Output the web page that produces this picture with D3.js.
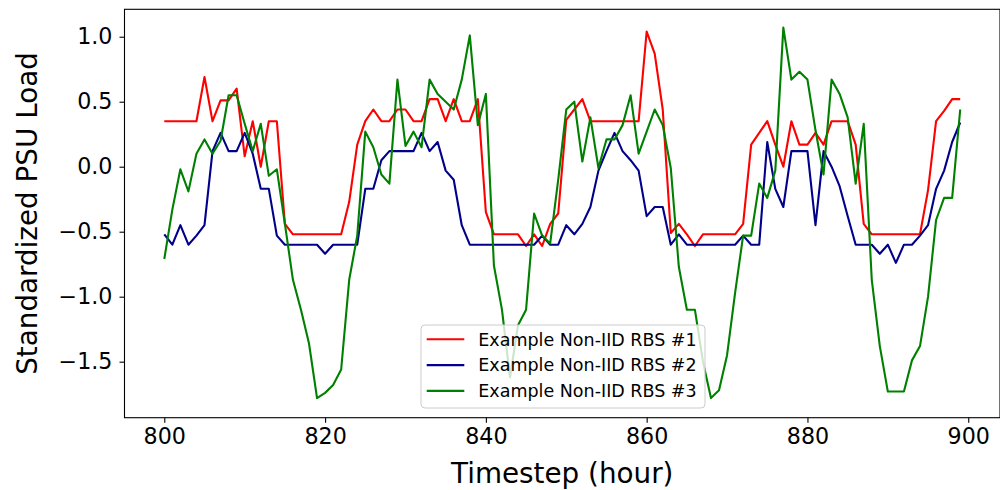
<!DOCTYPE html>
<html>
<head>
<meta charset="utf-8">
<script src="https://cdn.jsdelivr.net/npm/d3@7"></script>
<style>
  body { margin: 0; background: #fff; }
  text { font-family: "DejaVu Sans", sans-serif; fill: #000; }
</style>
</head>
<body>
<svg id="chart" width="1000" height="490"></svg>
<script>
// timesteps 800..899
var hours = d3.range(800, 900);

var rbs1 = [
  0.35,0.35,0.35,0.35,0.35, 0.69,0.35,0.51,0.51,0.60,
  0.08,0.35,0.00,0.35,0.35, -0.44,-0.52,-0.52,-0.52,-0.52,
  -0.52,-0.52,-0.52,-0.27,0.17, 0.35,0.44,0.35,0.35,0.44,
  0.44,0.35,0.35,0.52,0.52, 0.35,0.52,0.35,0.35,0.52,
  -0.35,-0.52,-0.52,-0.52,-0.52, -0.61,-0.52,-0.61,-0.44,-0.36,
  0.36,0.44,0.52,0.35,0.35, 0.35,0.35,0.35,0.35,0.35,
  1.04,0.87,0.44,-0.51,-0.44, -0.52,-0.61,-0.52,-0.52,-0.52,
  -0.52,-0.52,-0.44,0.17,0.26, 0.35,0.17,0.00,0.35,0.17,
  0.17,0.26,0.17,0.35,0.35, 0.35,0.17,-0.44,-0.52,-0.52,
  -0.52,-0.52,-0.52,-0.52,-0.52, -0.18,0.35,0.43,0.52,0.52
];

var rbs2 = [
  -0.52,-0.60,-0.45,-0.60,-0.53, -0.45,0.12,0.26,0.12,0.12,
  0.26,0.10,-0.17,-0.17,-0.53, -0.60,-0.60,-0.60,-0.60,-0.60,
  -0.67,-0.60,-0.60,-0.60,-0.60, -0.17,-0.17,0.05,0.12,0.12,
  0.12,0.12,0.26,0.12,0.19, -0.03,-0.10,-0.45,-0.60,-0.60,
  -0.60,-0.60,-0.60,-0.60,-0.60, -0.60,-0.60,-0.53,-0.60,-0.60,
  -0.45,-0.52,-0.44,-0.31,-0.03, 0.12,0.26,0.12,0.05,-0.03,
  -0.38,-0.31,-0.31,-0.60,-0.52, -0.60,-0.60,-0.60,-0.60,-0.60,
  -0.60,-0.60,-0.53,-0.60,-0.60, 0.19,-0.17,-0.31,0.12,0.12,
  0.12,-0.45,0.12,0.00,-0.15, -0.38,-0.60,-0.60,-0.60,-0.67,
  -0.60,-0.74,-0.60,-0.60,-0.53, -0.45,-0.17,-0.03,0.19,0.34
];

var rbs3 = [
  -0.71,-0.33,-0.02,-0.19,0.10, 0.21,0.10,0.20,0.55,0.55,
  0.33,0.12,0.33,-0.07,-0.02, -0.44,-0.87,-1.10,-1.36,-1.78,
  -1.74,-1.68,-1.56,-0.87,-0.53, 0.27,0.15,-0.06,-0.13,0.67,
  0.16,0.27,0.15,0.67,0.56, 0.50,0.44,0.67,1.01,0.32,
  0.56,-0.76,-1.10,-1.62,-1.22, -1.10,-0.36,-0.53,-0.59,-0.10,
  0.44,0.50,0.04,0.38,-0.01, 0.21,0.21,0.32,0.55,0.10,
  0.27,0.44,0.32,-0.01,-0.77, -1.10,-1.10,-1.50,-1.78,-1.72,
  -1.45,-0.97,-0.53,-0.53,-0.13, -0.24,-0.03,1.07,0.67,0.73,
  0.67,0.28,-0.06,0.67,0.56, 0.38,-0.13,0.33,-0.87,-1.38,
  -1.73,-1.73,-1.73,-1.49,-1.38, -1.00,-0.41,-0.24,-0.24,0.44
];

var seriesNames = ["Example Non-IID RBS #1", "Example Non-IID RBS #2", "Example Non-IID RBS #3"];
var seriesColors = ["red", "darkblue", "green"];
var xTicks = [800, 820, 840, 860, 880, 900];
var yTicks = [-1.5, -1.0, -0.5, 0.0, 0.5, 1.0];

(function() {
  var series = [rbs1, rbs2, rbs3].map((vals, k) => ({
    name: seriesNames[k],
    color: seriesColors[k],
    points: vals.map((v, i) => ({ t: hours[i], v: v }))
  }));

  // plot box in pixels (window.top is read-only, so no bare "top")
  var pLeft = 124.5, pRight = 1000, pTop = 9.3, pBottom = 417.7;

  var x = d3.scaleLinear().domain([795.05, 903.95]).range([pLeft, pRight]);
  var y = d3.scaleLinear().domain([-1.931, 1.211]).range([pBottom, pTop]);

  var svg = d3.select("#chart");

  // lines
  var line = d3.line().x(d => x(d.t)).y(d => y(d.v));
  svg.append("g")
    .selectAll("path")
    .data(series)
    .join("path")
      .attr("fill", "none")
      .attr("stroke", d => d.color)
      .attr("stroke-width", 2.1)
      .attr("stroke-linejoin", "round")
      .attr("d", d => line(d.points));

  // axes
  var xAxis = svg.append("g")
    .attr("transform", `translate(0,${pBottom})`)
    .call(d3.axisBottom(x).tickValues(xTicks).tickFormat(d3.format("d")).tickSize(5).tickPadding(6));
  var yAxis = svg.append("g")
    .attr("transform", `translate(${pLeft},0)`)
    .call(d3.axisLeft(y).tickValues(yTicks).tickFormat(d3.format(".1f")).tickSize(5).tickPadding(7));

  [xAxis, yAxis].forEach(g => {
    g.select(".domain").remove();
    g.selectAll(".tick line").attr("stroke", "#000").attr("stroke-width", 1.1);
    g.selectAll(".tick text").attr("font-size", "22.2px").attr("font-family", "DejaVu Sans").attr("fill", "#000");
  });

  // frame
  svg.append("rect")
    .attr("x", pLeft).attr("y", pTop)
    .attr("width", pRight - pLeft).attr("height", pBottom - pTop)
    .attr("fill", "none").attr("stroke", "#000").attr("stroke-width", 1.1);

  // axis titles
  svg.append("text")
    .attr("x", (pLeft + pRight) / 2).attr("y", 483)
    .attr("text-anchor", "middle")
    .attr("font-size", "27.8px")
    .text("Timestep (hour)");

  svg.append("text")
    .attr("transform", `translate(37,${(pTop + pBottom) / 2}) rotate(-90)`)
    .attr("text-anchor", "middle")
    .attr("font-size", "27.8px")
    .text("Standardized PSU Load");

  // legend
  var legend = svg.append("g").attr("transform", "translate(421,325)");
  legend.append("rect")
    .attr("width", 284).attr("height", 83)
    .attr("rx", 4)
    .attr("fill", "#fff").attr("fill-opacity", 0.8)
    .attr("stroke", "#cccccc");

  var rows = legend.selectAll("g.row")
    .data(series)
    .join("g")
      .attr("class", "row")
      .attr("transform", (d, i) => `translate(0,${14.3 + i * 25.8})`);
  rows.append("line")
    .attr("x1", 5.7).attr("x2", 43.3)
    .attr("stroke", d => d.color).attr("stroke-width", 2.1);
  rows.append("text")
    .attr("x", 57.3).attr("dy", "0.36em")
    .attr("font-size", "17.5px")
    .text(d => d.name);
})();
</script>
</body>
</html>
